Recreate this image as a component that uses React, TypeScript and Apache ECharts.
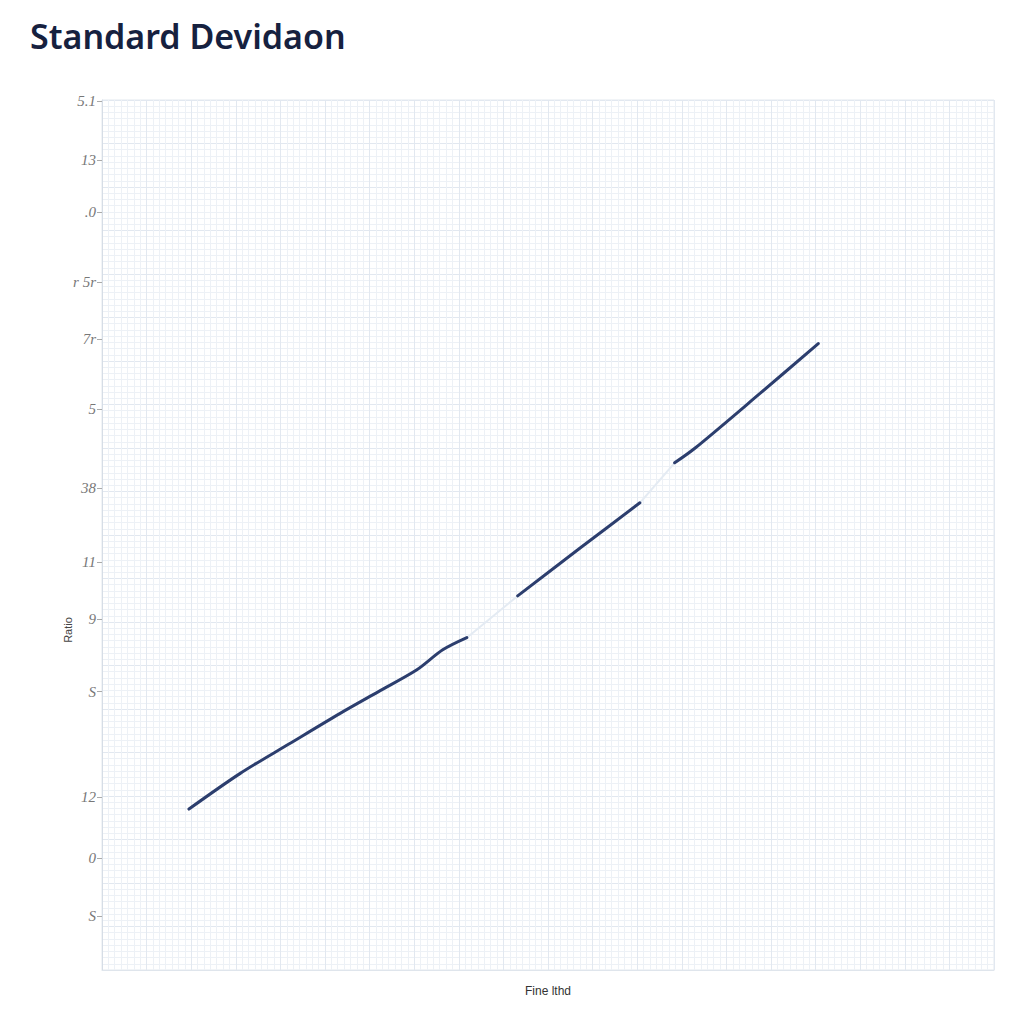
import React, { useEffect, useRef } from "react";
import * as echarts from "echarts";

const titleText = "Standard Devidaon";
const xAxisName = "Fine lthd";
const yAxisName = "Ratio";

// y tick positions (value scale 0..100) and their labels
const yTickValues = [99.9, 93.1, 87.1, 79.1, 72.5, 64.5, 55.4, 46.9, 40.3, 32.0, 19.9, 12.9, 6.2];
const yTickLabels = ["5.1", "13", ".0", "r 5r", "7r", "5", "38", "11", "9", "S", "12", "0", "S"];

// main (dark) line segments
const segment1: [number, number][] = [
  [9.75, 18.5], [15.5, 22.6], [21.0, 26.0], [26.7, 29.5], [31.0, 32.0], [35.3, 34.5], [38.2, 36.8], [40.9, 38.2],
];
const segment2: [number, number][] = [
  [46.6, 43.0], [53.6, 48.5], [60.3, 53.7],
];
const segment3: [number, number][] = [
  [64.2, 58.3], [66.5, 60.0], [73.8, 66.3], [80.3, 72.0],
];
// faint connecting pieces
const faint1: [number, number][] = [[40.9, 38.2], [46.6, 43.0]];
const faint2: [number, number][] = [[60.3, 53.7], [64.2, 58.3]];

export default function App() {
  const ref = useRef<HTMLDivElement>(null);
  useEffect(() => {
    document.body.style.margin = "0";
    const chart = echarts.init(ref.current!, null, { renderer: "svg" });
    const lineColor = "#2c3e6e";
    const mkLine = (data: [number, number][], color: string, width: number) => ({
      type: "line",
      data,
      xAxisIndex: 0,
      yAxisIndex: 0,
      showSymbol: false,
      symbol: "none",
      smooth: 0.3,
      lineStyle: { color, width, cap: "round" },
      z: 5,
    });
    chart.setOption({
      animation: false,
      backgroundColor: "#ffffff",
      title: {
        text: titleText,
        left: 25,
        top: 14,
        textStyle: {
          fontFamily: "Noto Sans",
          fontWeight: 600,
          fontSize: 34,
          color: "#16213f",
        },
      },
      grid: {
        left: 102,
        right: 30,
        top: 100,
        bottom: 54,
        show: true,
        borderColor: "#e3e8ef",
        borderWidth: 1,
      },
      xAxis: [
        {
          type: "value",
          min: 0,
          max: 100,
          interval: 5,
          name: xAxisName,
          nameLocation: "middle",
          nameGap: 15,
          nameTextStyle: { fontFamily: "Liberation Sans", fontSize: 12, color: "#333" },
          axisLine: { show: true, lineStyle: { color: "#dfe5ec" } },
          axisTick: { show: false },
          axisLabel: { show: false },
          splitLine: { show: true, lineStyle: { color: "#e2e8f0", width: 1 } },
          minorTick: { show: false, splitNumber: 7 },
          minorSplitLine: { show: true, lineStyle: { color: "#edf1f6", width: 1 } },
        },
      ],
      yAxis: [
        {
          type: "value",
          min: 0,
          max: 100,
          name: yAxisName,
          nameLocation: "middle",
          nameRotate: 90,
          nameGap: 29,
          nameMoveOverlap: false,
          nameTextStyle: {
            fontFamily: "Liberation Sans",
            fontSize: 11,
            color: "#444",
            padding: [0, 190, 0, 0],
          },
          axisLine: { show: true, lineStyle: { color: "#d6dde6" } },
          axisTick: {
            show: true,
            length: 5,
            customValues: yTickValues,
            lineStyle: { color: "#aaa" },
          },
          axisLabel: {
            show: true,
            customValues: yTickValues,
            margin: 6,
            fontFamily: "Liberation Serif",
            fontStyle: "italic",
            fontSize: 15,
            color: "#777",
            formatter: (v: number) => {
              const i = yTickValues.findIndex((t) => Math.abs(t - v) < 1e-6);
              return i >= 0 ? yTickLabels[i] : "";
            },
          },
          splitLine: { show: false },
        },
        {
          type: "value",
          min: 0,
          max: 100,
          interval: 5,
          axisLine: { show: false },
          axisTick: { show: false },
          axisLabel: { show: false },
          splitLine: { show: true, lineStyle: { color: "#e2e8f0", width: 1 } },
          minorTick: { show: false, splitNumber: 7 },
          minorSplitLine: { show: true, lineStyle: { color: "#edf1f6", width: 1 } },
        },
      ],
      series: [
        mkLine(faint1, "#e4ebf3", 2),
        mkLine(faint2, "#e4ebf3", 2),
        mkLine(segment1, lineColor, 3),
        mkLine(segment2, lineColor, 3),
        mkLine(segment3, lineColor, 3),
      ],
    });
    return () => chart.dispose();
  }, []);
  return <div ref={ref} style={{ width: 1024, height: 1024 }} />;
}
